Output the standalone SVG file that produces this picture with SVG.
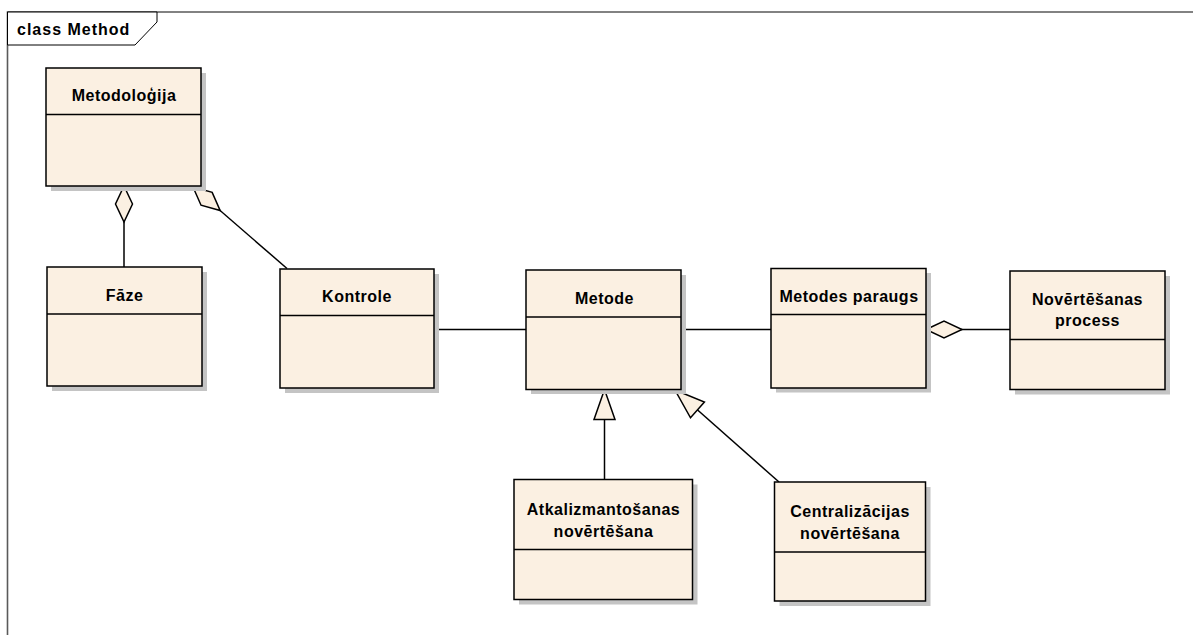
<svg xmlns="http://www.w3.org/2000/svg" width="1193" height="635" viewBox="0 0 1193 635">
  <style>
    .shadow { fill: #c4c4c4; }
    .box { fill: #fbf0e2; stroke: #000; stroke-width: 1.5; }
    .div { stroke: #000; stroke-width: 1.5; }
    .lbl { font-family: "Liberation Sans", Arial, sans-serif; font-weight: bold; font-size: 16px; fill: #000; text-anchor: middle; letter-spacing: 0.5px; }
    .conn { fill: none; stroke: #000; stroke-width: 1.5; }
    .frame { fill: none; stroke: #5a5a5a; stroke-width: 1.6; }
    .tab { fill: #fff; stroke: #000; stroke-width: 1; }
    .title { font-family: "Liberation Sans", Arial, sans-serif; font-weight: bold; font-size: 16px; fill: #000; letter-spacing: 1px; }
  </style>
  <defs>
    <!-- aggregation: hollow diamond, tip at the owning class -->
    <marker id="agg" markerUnits="userSpaceOnUse" markerWidth="40" markerHeight="20" refX="0" refY="0" orient="auto" overflow="visible">
      <polygon points="0,0 18,-8.5 36,0 18,8.5" fill="#fbf0e2" stroke="#000" stroke-width="1.5"/>
    </marker>
    <!-- generalization: hollow triangle, tip at the parent class -->
    <marker id="gen" markerUnits="userSpaceOnUse" markerWidth="40" markerHeight="30" refX="0" refY="0" orient="auto" overflow="visible">
      <polygon points="0,0 30,-10.5 30,10.5" fill="#fbf0e2" stroke="#000" stroke-width="1.5"/>
    </marker>
  </defs>

  <rect width="1193" height="635" fill="#fff"/>

  <!-- diagram frame -->
  <g id="frame">
    <path class="frame" d="M1193,12 H7.5 V635"/>
    <polygon class="tab" points="7.5,12 157,12 157,22 135,45 7.5,45"/>
    <text class="title" x="17" y="35">class Method</text>
  </g>

  <!-- connectors -->
  <g id="connectors">
    <path class="conn" d="M124,186 V267" marker-start="url(#agg)"/>
    <path class="conn" d="M193,187 L287,268.5" marker-start="url(#agg)"/>
    <path class="conn" d="M434,329.5 H526"/>
    <path class="conn" d="M681,329.5 H771"/>
    <path class="conn" d="M926,329.5 H1010" marker-start="url(#agg)"/>
    <path class="conn" d="M604.5,389.5 V479.5" marker-start="url(#gen)"/>
    <path class="conn" d="M675,390 L779,482" marker-start="url(#gen)"/>
  </g>

  <g id="metodologija">
    <rect class="shadow" x="51" y="73" width="155" height="118"/>
    <rect class="box" x="46" y="68" width="155" height="118"/>
    <line class="div" x1="46" y1="114.5" x2="201" y2="114.5"/>
    <text class="lbl" x="124" y="101">Metodoloģija</text>
  </g>

  <g id="faze">
    <rect class="shadow" x="52" y="272" width="155" height="119"/>
    <rect class="box" x="47" y="267" width="155" height="119"/>
    <line class="div" x1="47" y1="314" x2="202" y2="314"/>
    <text class="lbl" x="124.5" y="301">Fāze</text>
  </g>

  <g id="kontrole">
    <rect class="shadow" x="285" y="274" width="154" height="119"/>
    <rect class="box" x="280" y="269" width="154" height="119"/>
    <line class="div" x1="280" y1="315.5" x2="434" y2="315.5"/>
    <text class="lbl" x="357" y="301.5">Kontrole</text>
  </g>

  <g id="metode">
    <rect class="shadow" x="531" y="275" width="155" height="119"/>
    <rect class="box" x="526" y="270" width="155" height="119.5"/>
    <line class="div" x1="526" y1="317" x2="681" y2="317"/>
    <text class="lbl" x="604.5" y="304">Metode</text>
  </g>

  <g id="metodes-paraugs">
    <rect class="shadow" x="776" y="273" width="155" height="119.5"/>
    <rect class="box" x="771" y="268.5" width="155" height="119.5"/>
    <line class="div" x1="771" y1="314.5" x2="926" y2="314.5"/>
    <text class="lbl" x="849" y="301.5">Metodes paraugs</text>
  </g>

  <g id="novertesanas-process">
    <rect class="shadow" x="1015" y="276" width="155" height="118.5"/>
    <rect class="box" x="1010" y="271" width="155" height="118.5"/>
    <line class="div" x1="1010" y1="339.5" x2="1165" y2="339.5"/>
    <text class="lbl" x="1087.5" y="305">Novērtēšanas</text>
    <text class="lbl" x="1087.5" y="326">process</text>
  </g>

  <g id="atkalizmantosanas-novertesana">
    <rect class="shadow" x="519" y="484.5" width="178.5" height="120"/>
    <rect class="box" x="514" y="479.5" width="178.5" height="120"/>
    <line class="div" x1="514" y1="549.5" x2="692.5" y2="549.5"/>
    <text class="lbl" x="603.5" y="514.5">Atkalizmantošanas</text>
    <text class="lbl" x="603.5" y="537">novērtēšana</text>
  </g>

  <g id="centralizacijas-novertesana">
    <rect class="shadow" x="779.5" y="487" width="151" height="119"/>
    <rect class="box" x="774.5" y="482" width="151" height="119"/>
    <line class="div" x1="774.5" y1="552" x2="925.5" y2="552"/>
    <text class="lbl" x="850" y="517">Centralizācijas</text>
    <text class="lbl" x="850" y="538.5">novērtēšana</text>
  </g>
</svg>
